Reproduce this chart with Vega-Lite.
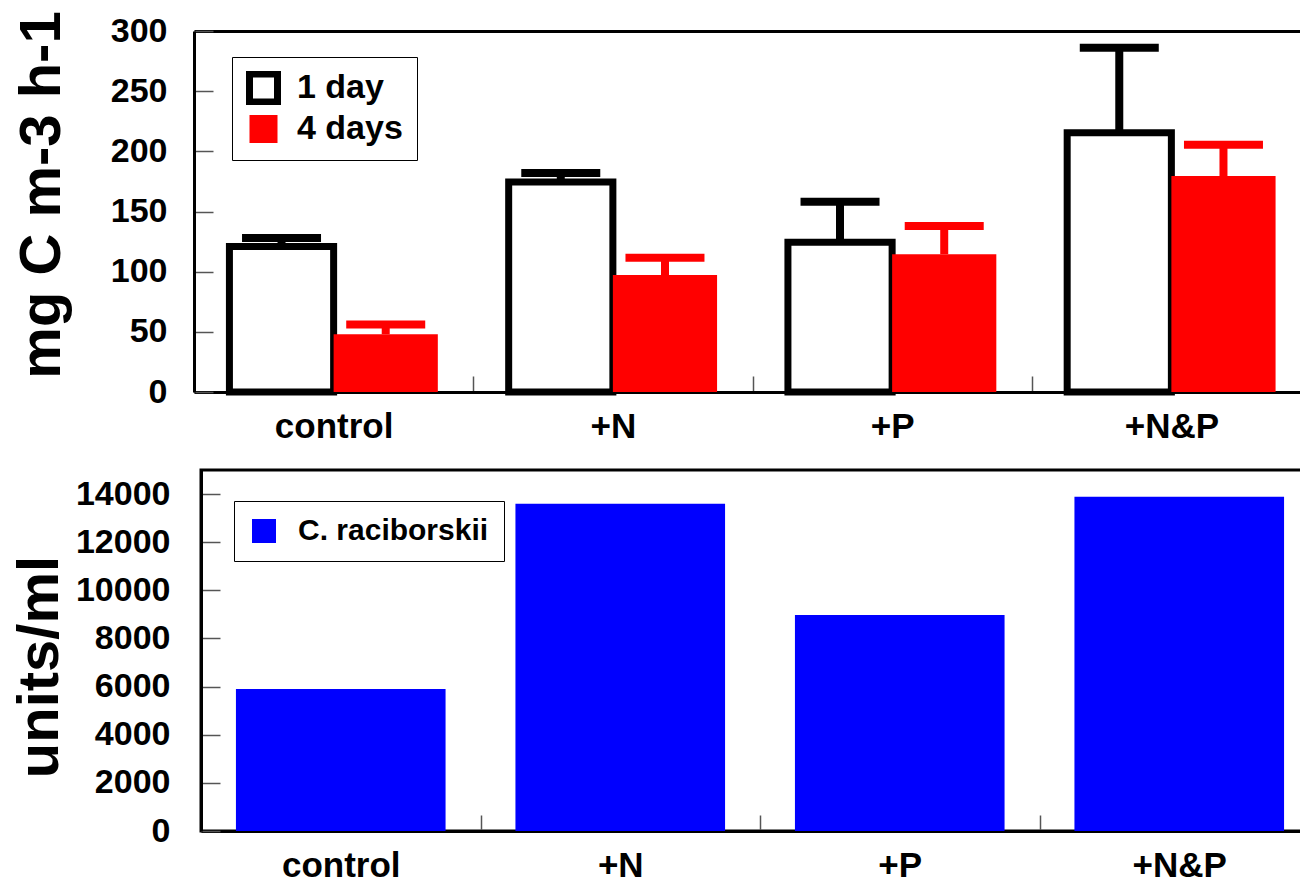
{
  "$schema": "https://vega.github.io/schema/vega-lite/v6.json",
  "padding": {"left": 9, "top": 10, "right": 0, "bottom": 0},
  "spacing": 24,
  "columns": 1,
  "align": "none",
  "config": {
    "font": "Liberation Sans",
    "view": {"stroke": "black", "strokeWidth": 3},
    "axis": {
      "labelFont": "Liberation Sans", "labelFontWeight": "bold", "labelFontSize": 34, "labelColor": "black",
      "titleFont": "Liberation Sans", "titleFontWeight": "bold", "titleFontSize": 58, "titleColor": "black",
      "domainColor": "black", "domainWidth": 3, "tickColor": "#555555", "tickWidth": 1.5, "grid": false
    },
    "axisX": {"labelFontSize": 35},
    "legend": {"labelFont": "Liberation Sans", "labelFontWeight": "bold", "labelColor": "black", "strokeColor": "black", "labelLimit": 0}
  },
  "resolve": {"scale": {"x": "independent", "y": "independent", "fill": "independent", "stroke": "independent", "color": "independent"}, "legend": {"fill": "independent", "stroke": "independent"}},
  "concat": [
    {
      "width": 1110,
      "height": 361,
      "view": {"stroke": null},
      "data": {"values": [
        {"treatment": "control", "series": "1 day", "value": 121, "upper": 128},
        {"treatment": "+N", "series": "1 day", "value": 174.5, "upper": 182},
        {"treatment": "+P", "series": "1 day", "value": 124.5, "upper": 158},
        {"treatment": "+N&P", "series": "1 day", "value": 215.5, "upper": 286},
        {"treatment": "control", "series": "4 days", "value": 48, "upper": 56},
        {"treatment": "+N", "series": "4 days", "value": 97.2, "upper": 111.5},
        {"treatment": "+P", "series": "4 days", "value": 114.5, "upper": 138},
        {"treatment": "+N&P", "series": "4 days", "value": 179.5, "upper": 205.5}
      ]},
      "encoding": {
        "xOffset": {"field": "series", "type": "nominal", "scale": {"paddingInner": 0, "paddingOuter": 0.34}},
        "y": {
          "field": "value", "type": "quantitative",
          "scale": {"domain": [0, 300]},
          "axis": {
            "title": "mg C m-3 h-1", "values": [0, 50, 100, 150, 200, 250, 300], "offset": 7,
            "tickSize": -19, "labelPadding": 46,
            "titleX": -135, "titleY": 163.5, "titleBaseline": "alphabetic", "titleAlign": "center", "titleAngle": -90
          }
        }
      },
      "resolve": {"axis": {"x": "independent"}},
      "layer": [
        {
          "mark": {"type": "bar", "strokeWidth": 7},
          "encoding": {
            "x": {
              "field": "treatment", "type": "nominal", "sort": ["control", "+N", "+P", "+N&P"],
              "scale": {"paddingInner": 0, "paddingOuter": 0, "range": [-7, 1110]},
              "axis": {"orient": "bottom", "title": null, "labelAngle": 0, "tickBand": "extent", "tickSize": -16, "labelPadding": 33}
            },
            "fill": {
              "field": "series", "type": "nominal",
              "scale": {"domain": ["1 day", "4 days"], "range": ["white", "#ff0000"]},
              "legend": {
                "title": null, "orient": "none", "legendX": 31, "legendY": 26,
                "symbolType": "square", "symbolSize": 784, "symbolStrokeWidth": 7,
                "labelFontSize": 34, "padding": 14, "rowPadding": 7, "labelOffset": 16, "clipHeight": 34
              }
            },
            "stroke": {
              "field": "series", "type": "nominal",
              "scale": {"domain": ["1 day", "4 days"], "range": ["black", "transparent"]},
              "legend": {
                "title": null, "orient": "none", "legendX": 31, "legendY": 26,
                "symbolType": "square", "symbolSize": 784, "symbolStrokeWidth": 7,
                "labelFontSize": 34, "padding": 14, "rowPadding": 7, "labelOffset": 16, "clipHeight": 34
              }
            }
          }
        },
        {
          "mark": {"type": "rule", "strokeWidth": 8, "opacity": 1},
          "encoding": {
            "x": {
              "field": "treatment", "type": "nominal", "sort": ["control", "+N", "+P", "+N&P"],
              "axis": {"orient": "top", "title": null, "labels": false, "ticks": false, "domain": true}
            },
            "y2": {"field": "upper"},
            "color": {"field": "series", "type": "nominal", "scale": {"domain": ["1 day", "4 days"], "range": ["black", "#ff0000"]}, "legend": null}
          }
        },
        {
          "mark": {"type": "tick", "thickness": 8, "size": 79, "opacity": 1},
          "encoding": {
            "x": {
              "field": "treatment", "type": "nominal", "sort": ["control", "+N", "+P", "+N&P"],
              "axis": null
            },
            "y": {"field": "upper", "type": "quantitative"},
            "color": {"field": "series", "type": "nominal", "scale": {"domain": ["1 day", "4 days"], "range": ["black", "#ff0000"]}, "legend": null}
          }
        }
      ]
    },
    {
      "width": 1118,
      "height": 361,
      "data": {"values": [
        {"treatment": "control", "series": "C. raciborskii", "count": 5900},
        {"treatment": "+N", "series": "C. raciborskii", "count": 13600},
        {"treatment": "+P", "series": "C. raciborskii", "count": 8970},
        {"treatment": "+N&P", "series": "C. raciborskii", "count": 13890}
      ]},
      "mark": {"type": "bar", "width": {"band": 0.75}},
      "encoding": {
        "x": {
          "field": "treatment", "type": "nominal", "sort": ["control", "+N", "+P", "+N&P"],
          "scale": {"paddingInner": 0, "paddingOuter": 0},
          "axis": {"title": null, "labelAngle": 0, "tickBand": "extent", "tickSize": -16, "labelPadding": 33}
        },
        "y": {
          "field": "count", "type": "quantitative",
          "scale": {"domain": [0, 15000]},
          "axis": {
            "title": "units/ml", "values": [0, 2000, 4000, 6000, 8000, 10000, 12000, 14000], "format": "d",
            "tickSize": -19, "labelPadding": 50,
            "titleX": -144, "titleY": 196.5, "titleBaseline": "alphabetic", "titleAlign": "center", "titleAngle": -90
          }
        },
        "fill": {
          "field": "series", "type": "nominal",
          "scale": {"range": ["#0000ff"]},
          "legend": {
            "title": null, "orient": "none", "legendX": 33, "legendY": 31,
            "symbolType": "square", "symbolSize": 576, "symbolStrokeWidth": 0,
            "labelFontSize": 30, "padding": 15, "labelOffset": 19
          }
        }
      }
    }
  ]
}
